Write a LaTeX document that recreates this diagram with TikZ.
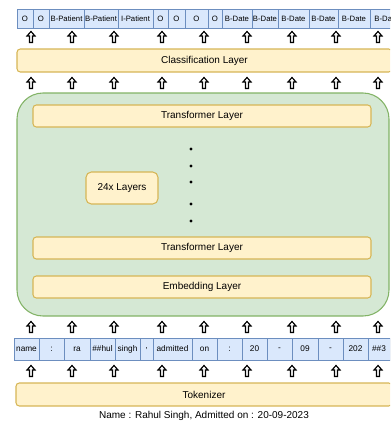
\documentclass[tikz,border=0pt]{standalone}
\usepackage{fontspec}
\setmainfont{Liberation Sans}
\usepackage{tikz}
\usetikzlibrary{positioning}
\definecolor{cellfill}{HTML}{DAE8FC}
\definecolor{celldraw}{HTML}{6C8EBF}
\definecolor{layerfill}{HTML}{FFF2CC}
\definecolor{layerdraw}{HTML}{D6B656}
\definecolor{stackfill}{HTML}{D5E8D4}
\definecolor{stackdraw}{HTML}{82B366}

\begin{document}
\begin{tikzpicture}[
    x=0.75pt, y=-0.75pt,
    cell/.style={draw=celldraw, fill=cellfill, line width=0.6pt, inner sep=0pt, outer sep=0pt},
    outcell/.style={cell, minimum height=14.25pt, font=\fontsize{5.8}{6}\selectfont},
    tokcell/.style={cell, minimum height=16.5pt, font=\fontsize{6.2}{7}\selectfont},
    layer/.style={draw=layerdraw, fill=layerfill, line width=0.8pt, rounded corners=2.5pt, align=center, font=\fontsize{7.5}{9}\selectfont},
    stack/.style={draw=stackdraw, fill=stackfill, line width=0.8pt, rounded corners=19.5pt},
    uparr/.pic={\draw[line width=0.85pt, fill=white] (-1.5,5.5) -- (-1.5,-1) -- (-4,-1) -- (0,-5.5) -- (4,-1) -- (1.5,-1) -- (1.5,5.5) -- cycle;}
]
\useasboundingbox (0,0) rectangle (390,425);
\clip (0,0) rectangle (390,425);

\coordinate (o0) at (17,18.5);
\foreach \lab/\w [count=\i, remember=\i as \j (initially 0)] in {O/16, O/16, B-Patient/35, B-Patient/34, I-Patient/35, O/15, O/17, O/23, O/14, B-Date/30, B-Date/26, B-Date/31, B-Date/29, B-Date/32, B-Date/33}
    \node[outcell, minimum width=\w*0.75pt, right=0pt of o\j] (o\i) {\lab};

\node[layer, minimum width=281.25pt, minimum height=17.25pt] (cls) at (204.5,60.5) {Classification Layer};

\node[stack, minimum width=279pt, minimum height=167.25pt] (stack) at (203,204.5) {};
\node[layer, minimum width=253.5pt, minimum height=16.5pt] (tftop) at (202,116) {Transformer Layer};
\node[layer, minimum width=54pt, minimum height=24pt, rounded corners=4pt] (count) at (122,188) {24x Layers};
\foreach \y in {149,166,182,204,221}
    \fill (191,\y) circle (1.3pt);
\node[layer, minimum width=253.5pt, minimum height=16.5pt] (tfbot) at (202,248) {Transformer Layer};
\node[layer, minimum width=253.5pt, minimum height=16.5pt] (embed) at (202,287) {Embedding Layer};

\coordinate (t0) at (14,349);
\foreach \lab/\w [count=\i, remember=\i as \j (initially 0)] in {name/25, :/25, ra/26, \#\#hul/25, singh/25, {,}/13, admitted/39, on/25, :/25, 20/25, -/25, 09/26, -/25, 202/25, \#\#3/22}
    \node[tokcell, minimum width=\w*0.75pt, right=0pt of t\j] (t\i) {\lab};

\node[layer, minimum width=282pt, minimum height=17.25pt] (tok) at (204,394.5) {Tokenizer};
\node[font=\fontsize{7.5}{9}\selectfont] (text) at (204,416) {Name : Rahul Singh, Admitted on : 20-09-2023};

\foreach \y [count=\r] in {37,83,327,371}
    \foreach \x [count=\k] in {31,72,114,162,204,247,292,336,378}
        \pic (arr\r-\k) at (\x,\y) {uparr};
\end{tikzpicture}
\end{document}
